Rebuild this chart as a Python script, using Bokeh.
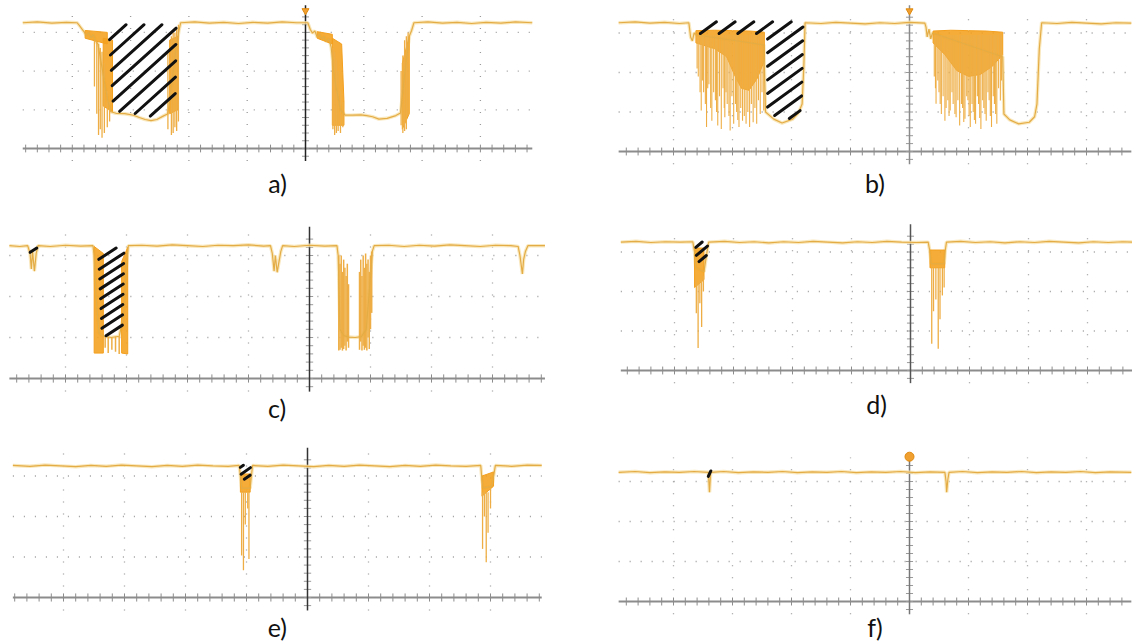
import math
import numpy as np
from bokeh.plotting import figure
from bokeh.layouts import column, row
from bokeh.models import Range1d
from bokeh.core.properties import value
from bokeh.embed import file_html
from bokeh.resources import INLINE

# ---------------- data (oscilloscope divisions: x from screen centre, y above centre line) -------------
labels = ["a)", "b)", "c)", "d)", "e)", "f)"]
grid_x = [-4, -3, -2, -1, 1, 2, 3]
grid_y = [1, 2, 3]

a_trace = [(-4.85, 3.25), (-4.60, 3.27), (-4.35, 3.24), (-4.10, 3.26), (-3.92, 3.25), (-3.88, 3.18), (-3.84, 3.10),
           (-3.80, 3.02), (-3.76, 2.92), (-3.72, 3.00), (-3.68, 2.86), (-3.64, 2.95), (-3.60, 2.78), (-3.56, 2.70),
           (-3.40, 1.30), (-3.34, 0.95), (-3.25, 0.91), (-3.10, 0.90), (-2.95, 0.86), (-2.85, 0.80), (-2.75, 0.75),
           (-2.65, 0.72), (-2.55, 0.75), (-2.45, 0.83), (-2.36, 0.90), (-2.30, 1.60), (-2.22, 2.60), (-2.17, 3.05),
           (-2.14, 3.25), (-1.90, 3.27), (-1.65, 3.24), (-1.40, 3.26), (-1.15, 3.23), (-0.90, 3.26), (-0.65, 3.24),
           (-0.40, 3.27), (-0.15, 3.25), (0.04, 3.25), (0.08, 3.08), (0.12, 2.98), (0.16, 3.04), (0.20, 2.88),
           (0.24, 2.96), (0.28, 2.82), (0.32, 2.90), (0.36, 2.76), (0.40, 2.84), (0.44, 2.62), (0.50, 1.80),
           (0.60, 1.00), (0.68, 0.86), (0.80, 0.86), (0.95, 0.87), (1.05, 0.85), (1.15, 0.82), (1.26, 0.76),
           (1.40, 0.78), (1.55, 0.85), (1.63, 0.92), (1.70, 1.90), (1.78, 2.90), (1.82, 3.05), (1.86, 3.25),
           (2.10, 3.27), (2.35, 3.24), (2.60, 3.26), (2.85, 3.23), (3.10, 3.26), (3.35, 3.24), (3.60, 3.27), (3.89, 3.25)]
a_bands = [[(-3.78, 3.05), (-3.40, 3.00), (-3.40, 2.70), (-3.78, 2.85)],
           [(-3.47, 2.85), (-3.31, 2.80), (-3.31, 0.95), (-3.47, 1.10)],
           [(-2.33, 2.80), (-2.19, 2.90), (-2.19, 1.00), (-2.33, 0.90)],
           [(0.20, 3.02), (0.46, 2.95), (0.46, 2.70), (0.20, 2.85)],
           [(0.46, 2.85), (0.62, 2.70), (0.66, 1.20), (0.66, 0.60), (0.46, 0.60)],
           [(1.66, 2.20), (1.78, 2.90), (1.78, 0.90), (1.66, 0.50)]]
a_spikes = [(-3.62, 2.80, 1.60), (-3.58, 2.75, 0.90), (-3.55, 2.70, 0.35), (-3.52, 2.60, 0.50), (-3.49, 2.50, 0.28),
            (-3.45, 2.20, 0.40), (-3.40, 1.50, 0.55), (-3.36, 1.20, 0.70), (-2.36, 2.50, 0.50), (-2.30, 2.90, 0.35),
            (-2.27, 3.00, 0.40), (-2.24, 3.00, 0.55), (-2.21, 3.10, 0.45), (-2.18, 3.20, 0.70), (0.47, 2.60, 0.50),
            (0.50, 2.50, 0.35), (0.53, 2.30, 0.40), (0.56, 2.00, 0.45), (0.60, 1.50, 0.40), (0.64, 1.20, 0.55),
            (1.64, 2.00, 0.60), (1.67, 2.40, 0.40), (1.70, 2.80, 0.45), (1.73, 2.90, 0.50), (1.76, 3.00, 0.85)]
a_hatch = [[(-3.40, 2.78), (-3.09, 3.25), (-2.18, 3.25), (-2.20, 0.98), (-2.40, 0.88), (-2.60, 0.76), (-2.90, 0.84),
            (-3.33, 0.93)]]

b_trace = [(-4.93, 3.26), (-4.65, 3.28), (-4.40, 3.25), (-4.15, 3.27), (-3.90, 3.24), (-3.74, 3.26), (-3.71, 2.90),
           (-3.68, 2.80), (-3.65, 3.00), (-3.60, 2.95), (-2.47, 2.70), (-2.44, 1.00), (-2.30, 0.82), (-2.16, 0.72),
           (-1.98, 0.82), (-1.88, 0.98), (-1.82, 1.20), (-1.79, 2.20), (-1.77, 3.26), (-1.50, 3.24), (-1.25, 3.27),
           (-1.00, 3.25), (-0.75, 3.23), (-0.50, 3.26), (-0.25, 3.24), (0.00, 3.27), (0.26, 3.25), (0.28, 3.15),
           (0.30, 2.90), (0.33, 3.10), (0.36, 2.85), (0.39, 3.00), (1.58, 2.40), (1.60, 0.95), (1.70, 0.80),
           (1.85, 0.70), (2.03, 0.74), (2.12, 0.88), (2.16, 1.20), (2.20, 2.60), (2.24, 3.26), (2.50, 3.24),
           (2.75, 3.27), (3.00, 3.25), (3.25, 3.23), (3.50, 3.26), (3.76, 3.25)]
b_bands = [[(-3.62, 3.06), (-3.30, 3.07), (-3.00, 3.06), (-2.70, 3.05), (-2.46, 3.02), (-2.46, 2.30), (-2.58, 1.85),
            (-2.72, 1.55), (-2.85, 1.60), (-2.97, 1.95), (-3.10, 2.40), (-3.30, 2.60), (-3.62, 2.75)],
           [(0.40, 3.05), (0.70, 3.07), (1.00, 3.06), (1.30, 3.05), (1.58, 3.02), (1.58, 2.45), (1.40, 2.15),
            (1.20, 1.95), (1.00, 1.90), (0.80, 2.05), (0.60, 2.45), (0.40, 2.75)]]
b_spikes = [(-3.60, 2.95, 2.10), (-3.58, 2.95, 1.90), (-3.55, 2.95, 1.50), (-3.53, 2.95, 1.04), (-3.51, 2.95, 1.80),
            (-3.49, 2.95, 1.50), (-3.46, 2.95, 1.20), (-3.44, 2.95, 0.62), (-3.42, 2.95, 1.60), (-3.40, 2.95, 1.70),
            (-3.37, 2.95, 1.10), (-3.35, 2.95, 0.78), (-3.32, 2.95, 1.50), (-3.29, 2.95, 1.30), (-3.27, 2.95, 1.00),
            (-3.25, 2.95, 0.66), (-3.22, 2.95, 1.40), (-3.19, 2.95, 0.57), (-3.16, 2.95, 1.60), (-3.14, 2.95, 1.10),
            (-3.13, 2.95, 0.87), (-3.11, 2.95, 1.50), (-3.09, 2.95, 1.20), (-3.06, 2.95, 0.90), (-3.04, 2.95, 0.53),
            (-3.01, 2.95, 1.40), (-2.98, 2.95, 0.70), (-2.95, 2.95, 1.20), (-2.93, 2.95, 1.00), (-2.91, 2.95, 0.80),
            (-2.89, 2.95, 0.62), (-2.86, 2.95, 1.10), (-2.83, 2.95, 0.78), (-2.80, 2.95, 0.90), (-2.77, 2.95, 0.70),
            (-2.74, 2.95, 1.00), (-2.71, 2.95, 0.62), (-2.68, 2.95, 1.20), (-2.65, 2.95, 0.74), (-2.62, 2.95, 1.10),
            (-2.59, 2.95, 0.70), (-2.56, 2.95, 1.30), (-2.53, 2.95, 0.95), (-2.50, 2.95, 1.50), (-2.47, 2.95, 1.04),
            (0.42, 2.95, 1.90), (0.44, 2.95, 1.60), (0.45, 2.95, 1.21), (0.48, 2.95, 1.80), (0.50, 2.95, 1.50),
            (0.52, 2.95, 1.20), (0.54, 2.95, 0.95), (0.57, 2.95, 1.40), (0.60, 2.95, 0.78), (0.62, 2.95, 1.10),
            (0.65, 2.95, 1.30), (0.67, 2.95, 0.90), (0.69, 2.95, 1.04), (0.72, 2.95, 1.50), (0.74, 2.95, 1.20),
            (0.77, 2.95, 0.95), (0.79, 2.95, 0.87), (0.82, 2.95, 1.30), (0.85, 2.95, 0.66), (0.88, 2.95, 1.20),
            (0.90, 2.95, 1.10), (0.92, 2.95, 0.75), (0.94, 2.95, 0.83), (0.97, 2.95, 1.40), (0.99, 2.95, 1.30),
            (1.01, 2.95, 0.90), (1.03, 2.95, 0.62), (1.06, 2.95, 1.20), (1.08, 2.95, 1.00), (1.10, 2.95, 0.80),
            (1.12, 2.95, 0.70), (1.15, 2.95, 1.40), (1.17, 2.95, 1.20), (1.19, 2.95, 0.85), (1.21, 2.95, 0.57),
            (1.24, 2.95, 1.30), (1.26, 2.95, 1.10), (1.28, 2.95, 0.95), (1.30, 2.95, 0.78), (1.33, 2.95, 1.50),
            (1.35, 2.95, 1.30), (1.37, 2.95, 0.90), (1.39, 2.95, 0.62), (1.42, 2.95, 1.40), (1.44, 2.95, 1.20),
            (1.46, 2.95, 0.95), (1.48, 2.95, 0.70), (1.51, 2.95, 1.60), (1.54, 2.95, 1.29), (1.56, 2.95, 1.80)]
b_hatch = [[(-3.66, 2.95), (-3.60, 3.32), (-1.77, 3.32), (-1.80, 1.10), (-1.98, 0.85), (-2.16, 0.75), (-2.30, 0.85),
            (-2.44, 1.02), (-2.44, 2.95)]]

c_trace = [(-4.92, 3.24), (-4.75, 3.22), (-4.62, 3.24), (-4.58, 3.05), (-4.56, 2.67), (-4.54, 3.10), (-4.51, 2.62),
           (-4.48, 3.05), (-4.45, 3.24), (-4.25, 3.22), (-4.00, 3.25), (-3.75, 3.23), (-3.55, 3.24), (-3.53, 3.00),
           (-3.50, 2.00), (-3.45, 1.10), (-3.37, 1.03), (-3.25, 1.00), (-3.12, 1.03), (-3.05, 1.50), (-3.00, 2.80),
           (-2.97, 3.24), (-2.75, 3.25), (-2.50, 3.23), (-2.25, 3.26), (-2.00, 3.24), (-1.75, 3.22), (-1.50, 3.25),
           (-1.25, 3.24), (-1.00, 3.26), (-0.75, 3.23), (-0.64, 3.24), (-0.61, 3.05), (-0.58, 2.62), (-0.56, 3.00),
           (-0.53, 2.59), (-0.50, 2.85), (-0.47, 3.10), (-0.44, 3.24), (-0.25, 3.22), (0.00, 3.25), (0.25, 3.23),
           (0.45, 3.24), (0.47, 3.00), (0.50, 1.20), (0.56, 1.05), (0.64, 1.01), (0.75, 1.00), (0.85, 1.02),
           (0.93, 1.20), (1.00, 2.50), (1.03, 3.10), (1.06, 3.24), (1.30, 3.25), (1.55, 3.22), (1.80, 3.25),
           (2.05, 3.23), (2.30, 3.26), (2.55, 3.24), (2.80, 3.22), (3.05, 3.25), (3.30, 3.24), (3.42, 3.22),
           (3.45, 3.00), (3.49, 2.55), (3.51, 2.90), (3.54, 3.10), (3.58, 3.24), (3.86, 3.24)]
c_bands = [[(-3.53, 3.22), (-3.38, 3.05), (-3.38, 0.62), (-3.53, 0.62)],
           [(-3.08, 2.85), (-2.98, 3.20), (-2.98, 0.60), (-3.08, 0.62)]]
c_spikes = [(-3.35, 1.03, 0.75), (-3.30, 1.02, 0.62), (-3.24, 1.00, 0.70), (-3.18, 1.02, 0.65), (-3.12, 1.03, 0.60),
            (0.48, 3.00, 0.68), (0.50, 2.80, 0.70), (0.52, 3.00, 0.75), (0.54, 2.60, 0.68), (0.56, 2.90, 0.72),
            (0.58, 2.70, 0.80), (0.60, 2.50, 0.68), (0.62, 2.80, 0.90), (0.64, 2.30, 0.75),
            (0.82, 2.60, 0.70), (0.84, 2.90, 0.90), (0.86, 2.50, 0.68), (0.88, 3.00, 0.80), (0.90, 2.70, 0.70),
            (0.92, 3.05, 0.75), (0.94, 2.80, 0.68), (0.96, 2.90, 1.00), (0.98, 2.60, 0.72), (1.00, 3.00, 1.20),
            (1.02, 3.10, 1.60)]
c_hatch = [[(-3.48, 3.10), (-3.02, 3.24), (-3.05, 1.10), (-3.25, 0.98), (-3.42, 1.05)],
           [(-4.60, 3.00), (-4.45, 3.00), (-4.45, 3.26), (-4.60, 3.26)]]

d_trace = [(-4.91, 3.25), (-4.65, 3.27), (-4.40, 3.24), (-4.15, 3.26), (-3.90, 3.25), (-3.69, 3.26), (-3.66, 3.00),
           (-3.64, 2.60), (-3.50, 2.50), (-3.45, 3.00), (-3.42, 3.25), (-3.15, 3.27), (-2.90, 3.24), (-2.65, 3.26),
           (-2.40, 3.23), (-2.15, 3.26), (-1.90, 3.24), (-1.65, 3.27), (-1.40, 3.25), (-1.15, 3.23), (-0.90, 3.26),
           (-0.65, 3.24), (-0.40, 3.27), (-0.15, 3.25), (0.10, 3.24), (0.30, 3.25), (0.33, 3.00), (0.35, 2.70),
           (0.57, 2.70), (0.59, 3.05), (0.61, 3.25), (0.85, 3.27), (1.10, 3.24), (1.35, 3.26), (1.60, 3.23),
           (1.85, 3.26), (2.10, 3.24), (2.35, 3.27), (2.60, 3.25), (2.85, 3.23), (3.10, 3.26), (3.35, 3.24),
           (3.60, 3.26), (3.76, 3.25)]
d_bands = [[(-3.66, 3.10), (-3.50, 3.10), (-3.50, 2.30), (-3.66, 2.10)],
           [(0.33, 3.05), (0.58, 3.05), (0.58, 2.60), (0.33, 2.60)]]
d_spikes = [(-3.63, 2.30, 1.45), (-3.60, 2.20, 0.57), (-3.57, 2.30, 1.70), (-3.54, 2.30, 1.10), (-3.51, 2.40, 2.00),
            (0.36, 2.60, 0.68), (0.39, 2.60, 1.50), (0.43, 2.60, 1.80), (0.47, 2.60, 0.55), (0.50, 2.60, 1.30),
            (0.54, 2.60, 1.90), (0.57, 2.60, 2.10)]
d_hatch = [[(-3.66, 3.27), (-3.42, 3.27), (-3.45, 2.90), (-3.55, 2.62), (-3.64, 2.85)]]

e_trace = [(-4.83, 3.26), (-4.55, 3.24), (-4.30, 3.27), (-4.05, 3.25), (-3.80, 3.23), (-3.55, 3.26), (-3.30, 3.24),
           (-3.05, 3.27), (-2.80, 3.25), (-2.55, 3.23), (-2.30, 3.26), (-2.05, 3.24), (-1.80, 3.27), (-1.55, 3.25),
           (-1.30, 3.24), (-1.12, 3.26), (-1.10, 3.00), (-1.08, 2.70), (-0.94, 2.70), (-0.92, 3.00), (-0.90, 3.26),
           (-0.65, 3.24), (-0.40, 3.27), (-0.15, 3.25), (0.10, 3.23), (0.35, 3.26), (0.60, 3.24), (0.85, 3.27),
           (1.10, 3.25), (1.35, 3.23), (1.60, 3.26), (1.85, 3.24), (2.10, 3.27), (2.35, 3.25), (2.60, 3.24),
           (2.84, 3.26), (2.86, 2.90), (2.88, 2.70), (3.02, 2.75), (3.04, 2.90), (3.08, 3.26), (3.35, 3.24),
           (3.60, 3.27), (3.84, 3.26)]
e_bands = [[(-1.10, 3.05), (-0.94, 3.05), (-0.94, 2.60), (-1.10, 2.60)],
           [(2.86, 3.00), (3.05, 3.10), (3.05, 2.75), (2.86, 2.50)]]
e_spikes = [(-1.08, 2.60, 1.04), (-1.05, 2.60, 0.67), (-1.02, 2.60, 1.80), (-0.98, 2.60, 2.20), (-0.96, 2.60, 0.95),
            (2.87, 2.60, 1.20), (2.90, 2.60, 2.00), (2.93, 2.60, 0.87), (2.96, 2.60, 1.60), (3.00, 2.70, 2.20)]
e_hatch = [[(-1.12, 3.28), (-0.92, 3.28), (-0.93, 2.95), (-1.02, 2.85), (-1.10, 3.00)]]

f_trace = [(-4.93, 3.23), (-4.65, 3.25), (-4.40, 3.22), (-4.15, 3.24), (-3.90, 3.23), (-3.65, 3.25), (-3.41, 3.23),
           (-3.39, 2.73), (-3.37, 3.23), (-3.15, 3.25), (-2.90, 3.22), (-2.65, 3.24), (-2.40, 3.23), (-2.15, 3.25),
           (-1.90, 3.22), (-1.65, 3.24), (-1.40, 3.23), (-1.15, 3.25), (-0.90, 3.22), (-0.65, 3.24), (-0.40, 3.23),
           (-0.15, 3.25), (0.10, 3.22), (0.35, 3.24), (0.60, 3.23), (0.62, 3.00), (0.63, 2.73), (0.65, 3.05),
           (0.67, 3.23), (0.90, 3.25), (1.15, 3.22), (1.40, 3.24), (1.65, 3.23), (1.90, 3.25), (2.15, 3.22),
           (2.40, 3.24), (2.65, 3.23), (2.90, 3.25), (3.15, 3.22), (3.40, 3.24), (3.76, 3.23)]
f_bands = []
f_spikes = []
f_hatch = [[(-3.42, 3.27), (-3.36, 3.27), (-3.37, 3.08), (-3.41, 3.08)]]

trigger_marks = {"a": ("inverted_triangle", 3.56), "b": ("inverted_triangle", 3.56), "f": ("circle", 3.62)}

# ---------------- layout / style (page pixels) ----------------
ROW_Y = [0, 220, 445, 641]
COL_X = [0, 566, 1132]
PANELS = [
    dict(key="a", trace=a_trace, bands=a_bands, spikes=a_spikes, hatch=a_hatch, col=0, row=0,
         cx=305, ay=148, dx=58.3, dy=38.7, ly=182, axis="#222222", h_ang=42, h_sp=12.0, h_in=3.0, sw=1.3),
    dict(key="b", trace=b_trace, bands=b_bands, spikes=b_spikes, hatch=b_hatch, col=1, row=0,
         cx=909, ay=151, dx=59.0, dy=39.5, ly=182, axis="#8a8a8a", h_ang=36, h_sp=11.0, h_in=2.5, sw=1.1),
    dict(key="c", trace=c_trace, bands=c_bands, spikes=c_spikes, hatch=c_hatch, col=0, row=1,
         cx=309, ay=378, dx=61.0, dy=41.0, ly=407, axis="#333333", h_ang=33, h_sp=8.5, h_in=1.5, sw=1.5),
    dict(key="d", trace=d_trace, bands=d_bands, spikes=d_spikes, hatch=d_hatch, col=1, row=1,
         cx=910, ay=370, dx=59.0, dy=39.5, ly=403, axis="#555555", h_ang=40, h_sp=6.5, h_in=1.0, sw=1.3),
    dict(key="e", trace=e_trace, bands=e_bands, spikes=e_spikes, hatch=e_hatch, col=0, row=2,
         cx=307, ay=597, dx=61.0, dy=40.5, ly=626, axis="#333333", h_ang=35, h_sp=6.0, h_in=1.0, sw=1.3),
    dict(key="f", trace=f_trace, bands=f_bands, spikes=f_spikes, hatch=f_hatch, col=1, row=2,
         cx=909, ay=601, dx=59.0, dy=40.0, ly=626, axis="#777777", h_ang=65, h_sp=6.0, h_in=0.3, sw=1.3),
]

BASE_HALO = "#F8E2AE"
BASE_CORE = "#E4AC45"
BAND_COL = "#F4A01E"
SPIKE_COL = "#EEAE45"
GRID_COL = "#9a9a9a"


def hatch_lines(poly, sx, sy, angle, spacing, inset):
    P = [(x * sx, y * sy) for x, y in poly]
    t = math.radians(angle)
    d = (math.cos(t), math.sin(t))
    n = (-math.sin(t), math.cos(t))
    cs = [px * n[0] + py * n[1] for px, py in P]
    cmin, cmax = min(cs), max(cs)
    cmid = 0.5 * (cmin + cmax)
    k = int((cmax - cmin) / 2 / spacing) + 1
    x0s, y0s, x1s, y1s = [], [], [], []
    m = len(P)
    for i in range(-k, k + 1):
        c = cmid + i * spacing
        ss = []
        for j in range(m):
            (xa, ya), (xb, yb) = P[j], P[(j + 1) % m]
            ca, cb = cs[j], cs[(j + 1) % m]
            if (ca - c) * (cb - c) < 0:
                u = (c - ca) / (cb - ca)
                X = xa + u * (xb - xa)
                Y = ya + u * (yb - ya)
                ss.append(X * d[0] + Y * d[1])
        ss.sort()
        for s0, s1 in zip(ss[0::2], ss[1::2]):
            s0 += inset
            s1 -= inset
            if s1 - s0 < 1.5:
                continue
            x0s.append((c * n[0] + s0 * d[0]) / sx)
            y0s.append((c * n[1] + s0 * d[1]) / sy)
            x1s.append((c * n[0] + s1 * d[0]) / sx)
            y1s.append((c * n[1] + s1 * d[1]) / sy)
    return x0s, y0s, x1s, y1s


def make_panel(cfg, label):
    px0, px1 = COL_X[cfg["col"]], COL_X[cfg["col"] + 1]
    py0, py1 = ROW_Y[cfg["row"]], ROW_Y[cfg["row"] + 1]
    cx, ay, dx, dy = cfg["cx"], cfg["ay"], cfg["dx"], cfg["dy"]
    p = figure(width=px1 - px0, height=py1 - py0,
               x_range=Range1d((px0 - cx) / dx, (px1 - cx) / dx),
               y_range=Range1d((ay - py1) / dy, (ay - py0) / dy),
               x_axis_type=None, y_axis_type=None, toolbar_location=None,
               output_backend="svg", min_border=0, outline_line_color=None)
    p.background_fill_color = "white"
    p.border_fill_color = "white"

    tx = [q[0] for q in cfg["trace"]]
    ty = [q[1] for q in cfg["trace"]]
    xmin, xmax = min(tx), max(tx)

    # scope graticule
    p.segment(x0=grid_x, y0=[-0.32] * len(grid_x), x1=grid_x, y1=[3.6] * len(grid_x),
              line_color=GRID_COL, line_width=1.3, line_dash="1 11")
    p.segment(x0=[xmin] * len(grid_y), y0=grid_y, x1=[xmax] * len(grid_y), y1=grid_y,
              line_color=GRID_COL, line_width=1.3, line_dash="1 10")
    p.segment(x0=[xmin], y0=[0], x1=[xmax], y1=[0], line_color="#8c8c8c", line_width=1.8)
    mt = np.arange(math.ceil(xmin / 0.2) * 0.2, xmax, 0.2)
    p.segment(x0=mt, y0=-0.1, x1=mt, y1=0.1, line_color="#8c8c8c", line_width=1)
    vt = np.arange(-0.2, 3.5, 0.2)
    p.segment(x0=-0.06, y0=vt, x1=0.06, y1=vt, line_color="#9a9a9a", line_width=1)
    p.segment(x0=[0], y0=[-0.32], x1=[0], y1=[3.7], line_color=cfg["axis"], line_width=1.5)

    # trace
    p.line(tx, ty, line_color=BASE_HALO, line_width=3.5, line_alpha=0.8)
    if cfg["bands"]:
        p.patches(xs=[[q[0] for q in b] for b in cfg["bands"]], ys=[[q[1] for q in b] for b in cfg["bands"]],
                  fill_color=BAND_COL, fill_alpha=0.88, line_color=BAND_COL, line_width=1)
    if cfg["spikes"]:
        sx = [q[0] for q in cfg["spikes"]]
        p.segment(x0=sx, y0=[q[1] for q in cfg["spikes"]], x1=sx, y1=[q[2] for q in cfg["spikes"]],
                  line_color=SPIKE_COL, line_width=cfg["sw"])
    p.line(tx, ty, line_color=BASE_CORE, line_width=1.2)

    # hand-drawn style hatching of the marked regions
    hx0, hy0, hx1, hy1 = [], [], [], []
    for poly in cfg["hatch"]:
        a0, b0, a1, b1 = hatch_lines(poly, dx, dy, cfg["h_ang"], cfg["h_sp"], cfg["h_in"])
        hx0 += a0; hy0 += b0; hx1 += a1; hy1 += b1
    p.segment(x0=hx0, y0=hy0, x1=hx1, y1=hy1, line_color="#111111", line_width=3, line_cap="round")

    if cfg["key"] in trigger_marks:
        mk, my = trigger_marks[cfg["key"]]
        p.scatter([0], [my], marker=mk, size=9 if mk == "circle" else 7,
                  fill_color="#F0A030", line_color="#E08A10")

    p.text(x=[0.5 * (xmin + xmax)], y=[(ay - cfg["ly"]) / dy], text=[label],
           text_font=value("Lato"), text_font_size="25px", text_align="center",
           text_baseline="middle", text_color="#111111")
    return p


figs = [make_panel(cfg, lab) for cfg, lab in zip(PANELS, labels)]
layout = column(row(figs[0], figs[1]), row(figs[2], figs[3]), row(figs[4], figs[5]))

open("out.html", "w").write(file_html(layout, INLINE))
